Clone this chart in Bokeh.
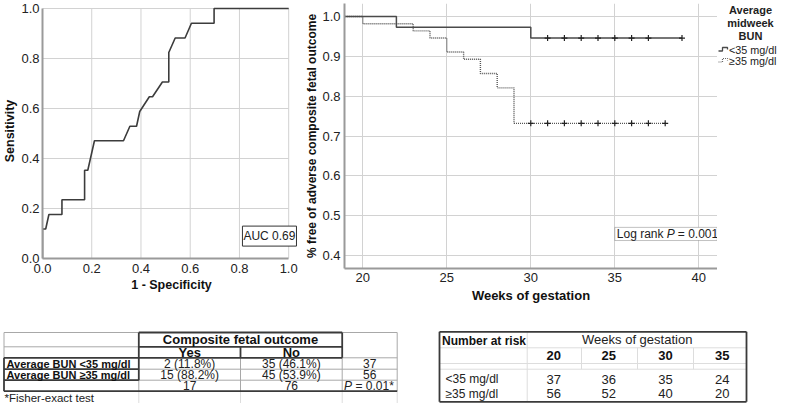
from bokeh.plotting import figure
from bokeh.layouts import row, column
from bokeh.models import Range1d, FixedTicker, PrintfTickFormatter, Label, BoxAnnotation
from bokeh.core.properties import value
from bokeh.embed import file_html
from bokeh.resources import INLINE

FONT = "Liberation Sans"

# ---------------- data ----------------
# ROC curve (1 - specificity, sensitivity)
roc_fpr = [0.0, 0.0, 0.013, 0.026, 0.079, 0.079, 0.171, 0.171, 0.184, 0.211, 0.329, 0.355,
           0.382, 0.395, 0.434, 0.447, 0.487, 0.513, 0.513, 0.539, 0.579, 0.605, 0.697, 0.697, 1.0]
roc_tpr = [0.0, 0.118, 0.118, 0.176, 0.176, 0.235, 0.235, 0.353, 0.353, 0.471, 0.471, 0.529,
           0.529, 0.588, 0.647, 0.647, 0.706, 0.706, 0.824, 0.882, 0.882, 0.941, 0.941, 1.0, 1.0]
roc_ticks = [0.0, 0.2, 0.4, 0.6, 0.8, 1.0]
auc_text = "AUC 0.69"

# Kaplan-Meier curves
km_x_ticks = [20, 25, 30, 35, 40]
km_y_ticks = [0.4, 0.5, 0.6, 0.7, 0.8, 0.9, 1.0]
lt35_t = [0, 22, 30, 39]
lt35_s = [1.0, 0.973, 0.946, 0.946]
lt35_cens_t = [31, 32, 33, 34, 35, 36, 37, 39]
lt35_cens_s = [0.946, 0.946, 0.946, 0.946, 0.946, 0.946, 0.946, 0.946]
ge35_t = [0, 20, 23, 24, 25, 26, 27, 28, 29, 38]
ge35_s = [1.0, 0.982, 0.964, 0.946, 0.911, 0.893, 0.857, 0.821, 0.732, 0.732]
ge35_cens_t = [30, 31, 32, 33, 34, 35, 36, 37, 38]
ge35_cens_s = [0.732, 0.732, 0.732, 0.732, 0.732, 0.732, 0.732, 0.732, 0.732]
legend_title = ["Average", "midweek", "BUN"]
legend_labels = ["<35 mg/dl", "\u226535 mg/dl"]

# contingency table
ct_header = "Composite fetal outcome"
ct_cols = ["Yes", "No"]
ct_rows = ["Average BUN <35 mg/dl", "Average BUN \u226535 mg/dl"]
ct_yes = ["2 (11.8%)", "15 (88.2%)"]
ct_no = ["35 (46.1%)", "45 (53.9%)"]
ct_row_tot = ["37", "56"]
ct_col_tot = ["17", "76"]
ct_note = "*Fisher-exact test"

# number at risk table
risk_weeks = [20, 25, 30, 35]
risk_lt35 = [37, 36, 35, 24]
risk_ge35 = [56, 52, 40, 20]
risk_groups = ["<35 mg/dl", "\u226535 mg/dl"]

GRID = "#d2d2d2"
TOP_H = 320          # height of the upper row
B_TOP, B_BOT = 3, 52  # identical top/bottom borders for the upper-row plots


def style_axes(p, label_size):
    for ax in p.axis:
        ax.axis_line_color = "#9a9a9a"
        ax.axis_line_width = 2
        ax.major_tick_line_color = None
        ax.minor_tick_line_color = None
        ax.major_tick_out = 0
        ax.major_tick_in = 0
        ax.major_label_text_font = FONT
        ax.major_label_text_font_size = "13px"
        ax.major_label_text_color = "#222222"
        ax.axis_label_text_font = FONT
        ax.axis_label_text_font_style = "bold"
        ax.axis_label_text_font_size = label_size
        ax.axis_label_text_color = "#111111"
        ax.formatter = PrintfTickFormatter(format="%.1f")
    p.outline_line_color = None


# ---------------- ROC ----------------
roc = figure(width=300, height=TOP_H - 10, x_range=Range1d(0, 1.048), y_range=Range1d(0, 1.02),
             output_backend="svg", toolbar_location=None,
             min_border_left=38, min_border_right=0, min_border_top=B_TOP, min_border_bottom=B_BOT)
roc.xaxis.ticker = FixedTicker(ticks=roc_ticks)
roc.yaxis.ticker = FixedTicker(ticks=roc_ticks)
style_axes(roc, "12.5px")
roc.grid.visible = False
roc.xaxis.bounds = (0, 1)
roc.yaxis.bounds = (0, 1)
roc.xaxis.major_label_standoff = 5
roc.yaxis.major_label_standoff = 3
roc.xaxis.axis_label = "1 - Specificity"
roc.xaxis.axis_label_standoff = 2
roc.yaxis.axis_label = "Sensitivity"
roc.yaxis.axis_label_standoff = 1
# grid lines at the tick values, limited to the unit square
roc.segment(x0=roc_ticks, y0=[0.0] * 6, x1=roc_ticks, y1=[1.0] * 6, line_color=GRID, line_width=1)
roc.segment(x0=[0.0] * 6, y0=roc_ticks, x1=[1.0] * 6, y1=roc_ticks, line_color=GRID, line_width=1)
roc.line(roc_fpr, roc_tpr, line_color="#3c3c3c", line_width=1.6)
roc.add_layout(Label(x=0.8, y=0.0896, x_offset=3, text=auc_text, text_align="left",
                     text_baseline="middle", text_font=FONT, text_font_size="12px",
                     text_color="#222222", border_line_color="#333333", border_line_width=1,
                     background_fill_color="white", padding=(1, 3)))

# ---------------- Kaplan-Meier ----------------
km = figure(width=417, height=TOP_H, x_range=Range1d(18.911, 41.113), y_range=Range1d(0.3678, 1.0327),
            output_backend="svg", toolbar_location=None,
            min_border_left=44, min_border_right=0, min_border_top=B_TOP, min_border_bottom=B_BOT)
km.xaxis.ticker = FixedTicker(ticks=km_x_ticks)
km.yaxis.ticker = FixedTicker(ticks=km_y_ticks)
style_axes(km, "12px")
km.grid.grid_line_color = GRID
km.grid.grid_line_width = 1
km.xaxis.formatter = PrintfTickFormatter(format="%d")
km.xaxis.major_label_standoff = 4
km.yaxis.major_label_standoff = 4
km.xaxis.axis_label = "Weeks of gestation"
km.xaxis.axis_label_text_font_size = "13px"
km.xaxis.axis_label_standoff = 3
km.yaxis.axis_label = "% free of adverse composite fetal outcome"
km.yaxis.axis_label_standoff = 0
km.step(ge35_t, ge35_s, mode="after", line_color="#555555", line_width=1.4, line_dash="1 1")
km.step(lt35_t, lt35_s, mode="after", line_color="#4a4a4a", line_width=1.5)
km.scatter(lt35_cens_t, lt35_cens_s, marker="cross", size=6, line_color="#222222", line_width=1.2)
km.scatter(ge35_cens_t, ge35_cens_s, marker="cross", size=6, line_color="#222222", line_width=1.2)
km.add_layout(BoxAnnotation(left=35.0, right=41.1, top=0.471, bottom=0.438,
                            fill_color="white", fill_alpha=1.0, line_color="#333333", line_width=1))
for txt, off, style in [("Log rank", 2, "normal"), ("P", 52, "italic"), ("= 0.001", 63, "normal")]:
    km.add_layout(Label(x=35.0, y=0.4545, x_offset=off, text=txt, text_align="left",
                        text_baseline="middle", text_font=FONT, text_font_size="12px",
                        text_font_style=style, text_color="#222222"))

# ---------------- legend panel ----------------
leg = figure(width=60, height=TOP_H, x_range=Range1d(717, 777), y_range=Range1d(268, 3),
             x_axis_type=None, y_axis_type=None, output_backend="svg", toolbar_location=None,
             min_border_left=0, min_border_right=0, min_border_top=B_TOP, min_border_bottom=B_BOT)
leg.outline_line_color = None
leg.grid.visible = False
leg.text(x=[750, 750, 750], y=[9.5, 22.5, 35.5], text=legend_title, text_font=value(FONT),
         text_font_size="11px", text_font_style="bold", text_align="center",
         text_baseline="middle", text_color="#222222")
leg.line([718, 722, 722, 727, 727], [50.5, 50.5, 47, 47, 49], line_color="#4a4a4a", line_width=1.3)
leg.line([718, 722, 722, 727, 727], [61.5, 61.5, 58, 58, 60], line_color="#666666",
         line_width=1.2, line_dash="1 1")
leg.text(x=[728.5, 728.5], y=[49, 60], text=legend_labels, text_font=value(FONT),
         text_font_size="10.8px", text_align="left", text_baseline="middle", text_color="#222222")

# ---------------- tables ----------------
tb = figure(width=777, height=403 - TOP_H, x_range=Range1d(0, 777), y_range=Range1d(405, 322),
            x_axis_type=None, y_axis_type=None, output_backend="svg", toolbar_location=None,
            min_border_left=0, min_border_right=0, min_border_top=0, min_border_bottom=0)
tb.outline_line_color = None
tb.grid.visible = False

cx = [3.5, 138.3, 240, 341.7, 396.7]
ry = [334, 348.3, 359.3, 370.7, 381.7, 392.7]

faint = [(cx[1], ry[5], cx[1], 405), (cx[2], ry[5], cx[2], 405), (cx[3], ry[5], cx[3], 405),
         (cx[4], ry[5], cx[4], 405)]
thin = [(cx[0], ry[0], cx[1], ry[0]), (cx[3], ry[0], cx[4], ry[0]), (cx[0], ry[0], cx[0], ry[2]),
        (cx[4], ry[0], cx[4], ry[5]), (cx[3], ry[2], cx[4], ry[2]), (cx[0], ry[1], cx[1], ry[1]),
        (cx[1], ry[3], cx[4], ry[3]), (cx[1], ry[4], cx[4], ry[4]),
        (cx[2], ry[2], cx[2], ry[5]), (cx[3], ry[2], cx[3], ry[5]), (cx[1], ry[4], cx[1], ry[5]),
        (cx[0], ry[4], cx[1], ry[4])]
thick = [(cx[1], ry[0], cx[3], ry[0]), (cx[1], ry[0], cx[1], ry[2]), (cx[3], ry[0], cx[3], ry[2]),
         (cx[1], ry[1], cx[3], ry[1]), (cx[2], ry[1], cx[2], ry[2]), (cx[0], ry[2], cx[3], ry[2]),
         (cx[0], ry[3], cx[1], ry[3]), (cx[0], ry[4], cx[1], ry[4]), (cx[0], ry[2], cx[0], ry[5]),
         (cx[1], ry[2], cx[1], ry[4]), (cx[0], ry[5], cx[4], ry[5])]

# risk table geometry
rx = [439, 526.7, 581, 637, 693, 746]
rry = [333.3, 349.3, 365, 370.7, 386.7, 403.3]
faint += [(rx[1], rry[0], rx[1], rry[5]), (rx[0], rry[1], rx[5], rry[1]), (rx[0], rry[2], rx[5], rry[2]),
          (rx[0], rry[3], rx[5], rry[3]), (rx[2], rry[1], rx[2], rry[3]), (rx[3], rry[1], rx[3], rry[3]),
          (rx[4], rry[1], rx[4], rry[3])]
thick += [(rx[0], rry[0], rx[5], rry[0]), (rx[0], rry[5], rx[5], rry[5]), (rx[0], rry[0], rx[0], rry[5]),
          (rx[5], rry[0], rx[5], rry[5])]

for segs, col, w in [(faint, "#dddddd", 1), (thin, "#a8a8a8", 1), (thick, "#3a3a3a", 1.8)]:
    tb.segment(x0=[s[0] for s in segs], y0=[s[1] for s in segs], x1=[s[2] for s in segs],
               y1=[s[3] for s in segs], line_color=col, line_width=w)

c_mid = [(cx[1] + cx[2]) / 2, (cx[2] + cx[3]) / 2, (cx[3] + cx[4]) / 2]
r_mid = [(ry[i] + ry[i + 1]) / 2 for i in range(5)]
tb.text(x=[cx[2]], y=[r_mid[0]], text=[ct_header], text_font=value(FONT), text_font_size="13px",
        text_font_style="bold", text_align="center", text_baseline="middle", text_color="#111111")
tb.text(x=c_mid[:2], y=[r_mid[1]] * 2, text=ct_cols, text_font=value(FONT), text_font_size="13px",
        text_font_style="bold", text_align="center", text_baseline="middle", text_color="#111111")
tb.text(x=[6] * 2, y=r_mid[2:4], text=ct_rows, text_font=value(FONT), text_font_size="11px",
        text_font_style="bold", text_align="left", text_baseline="middle", text_color="#111111")
tb.text(x=[c_mid[0]] * 2 + [c_mid[1]] * 2 + [c_mid[2]] * 2 + c_mid[:2],
        y=r_mid[2:4] + r_mid[2:4] + r_mid[2:4] + [r_mid[4]] * 2,
        text=ct_yes + ct_no + ct_row_tot + ct_col_tot, text_font=value(FONT), text_font_size="12px",
        text_align="center", text_baseline="middle", text_color="#222222")
tb.text(x=[343.5], y=[r_mid[4]], text=["P"], text_font=value(FONT), text_font_size="12px",
        text_font_style="italic", text_align="left", text_baseline="middle", text_color="#222222")
tb.text(x=[355], y=[r_mid[4]], text=["= 0.01*"], text_font=value(FONT), text_font_size="12px",
        text_align="left", text_baseline="middle", text_color="#222222")
tb.text(x=[4], y=[399], text=[ct_note], text_font=value(FONT), text_font_size="11.5px",
        text_align="left", text_baseline="middle", text_color="#222222")

w_mid = [553.3, 608.3, 665, 721.7]
tb.text(x=[441.5], y=[342], text=["Number at risk"], text_font=value(FONT), text_font_size="12px",
        text_font_style="bold", text_align="left", text_baseline="middle", text_color="#111111")
tb.text(x=[636.7], y=[341], text=["Weeks of gestation"], text_font=value(FONT), text_font_size="13px",
        text_align="center", text_baseline="middle", text_color="#222222")
tb.text(x=w_mid, y=[357] * 4, text=[str(w) for w in risk_weeks], text_font=value(FONT),
        text_font_size="13px", text_font_style="bold", text_align="center", text_baseline="middle",
        text_color="#111111")
tb.text(x=[445, 445], y=[380.5, 395], text=risk_groups, text_font=value(FONT), text_font_size="12px",
        text_align="left", text_baseline="middle", text_color="#222222")
tb.text(x=w_mid + w_mid, y=[380.5] * 4 + [395] * 4, text=[str(v) for v in risk_lt35 + risk_ge35],
        text_font=value(FONT), text_font_size="13px", text_align="center", text_baseline="middle",
        text_color="#222222")

layout = column(row(roc, km, leg), tb)
open("out.html", "w").write(file_html(layout, INLINE))
